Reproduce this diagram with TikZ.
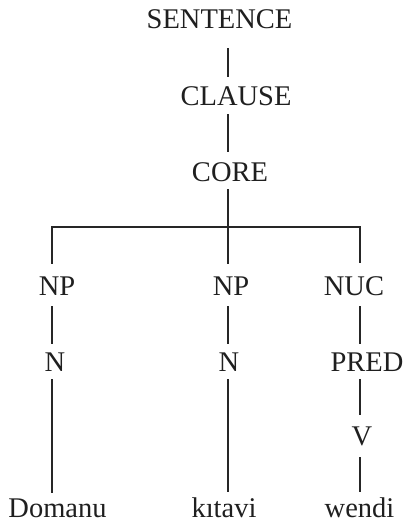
\documentclass[tikz,border=0pt]{standalone}
\usepackage{fontspec}
\setmainfont{Liberation Serif}
\begin{document}
\begin{tikzpicture}[x=1pt,y=1pt,
  lbl/.style={font=\fontsize{28.5}{30}\selectfont, inner sep=0pt, outer sep=0pt, anchor=base, text=black!88},
  branch/.style={line width=1.3pt, draw=black!85}]
\useasboundingbox (0,0) rectangle (405,-524);
% columns
\coordinate (colA) at (52,0);
\coordinate (colB) at (228,0);
\coordinate (colC) at (360,0);
\coordinate (barL) at (52,-227);
\coordinate (barM) at (228,-227);
\coordinate (barR) at (360,-227);
% nodes
\node[lbl] (sentence) at (219.5,-29) {SENTENCE};
\node[lbl] (clause) at (236,-106) {CLAUSE};
\node[lbl] (core) at (230,-181) {CORE};
\node[lbl] (np1) at (57,-295) {NP};
\node[lbl] (np2) at (231,-295) {NP};
\node[lbl] (nuc) at (354,-295) {NUC};
\node[lbl] (n1) at (55,-371) {N};
\node[lbl] (n2) at (229,-371) {N};
\node[lbl] (pred) at (367,-371) {PRED};
\node[lbl] (v) at (362,-445) {V};
\node[lbl] (w1) at (57.5,-517.5) {Domanu};
\node[lbl] (w2) at (224,-517.5) {kıtavi};
\node[lbl] (w3) at (359.5,-517.5) {wendi};
% connectors
\draw[branch, shorten <=19pt, shorten >=10pt] (sentence.south -| colB) -- (clause.north -| colB);
\draw[branch, shorten <=8pt, shorten >=9.7pt] (clause.south -| colB) -- (core.north -| colB);
\draw[branch, shorten <=8pt] (core.south -| colB) -- (barM);
\draw[branch, shorten <=12.7pt, shorten >=12.7pt] (np1.north -| barL) -- (barL) -- (barR) -- (nuc.north -| barR);
\draw[branch, shorten >=12.7pt] (barM) -- (np2.north -| barM);
\draw[branch, shorten <=11pt, shorten >=8pt] (np1.south -| colA) -- (n1.north -| colA);
\draw[branch, shorten <=11pt, shorten >=8pt] (np2.south -| colB) -- (n2.north -| colB);
\draw[branch, shorten <=11pt, shorten >=8pt] (nuc.south -| colC) -- (pred.north -| colC);
\draw[branch, shorten <=8pt, shorten >=6pt] (n1.south -| colA) -- (w1.north -| colA);
\draw[branch, shorten <=8pt, shorten >=6pt] (n2.south -| colB) -- (w2.north -| colB);
\draw[branch, shorten <=8pt, shorten >=11pt] (pred.south -| colC) -- (v.north -| colC);
\draw[branch, shorten <=12pt, shorten >=6pt] (v.south -| colC) -- (w3.north -| colC);
\end{tikzpicture}
\end{document}
